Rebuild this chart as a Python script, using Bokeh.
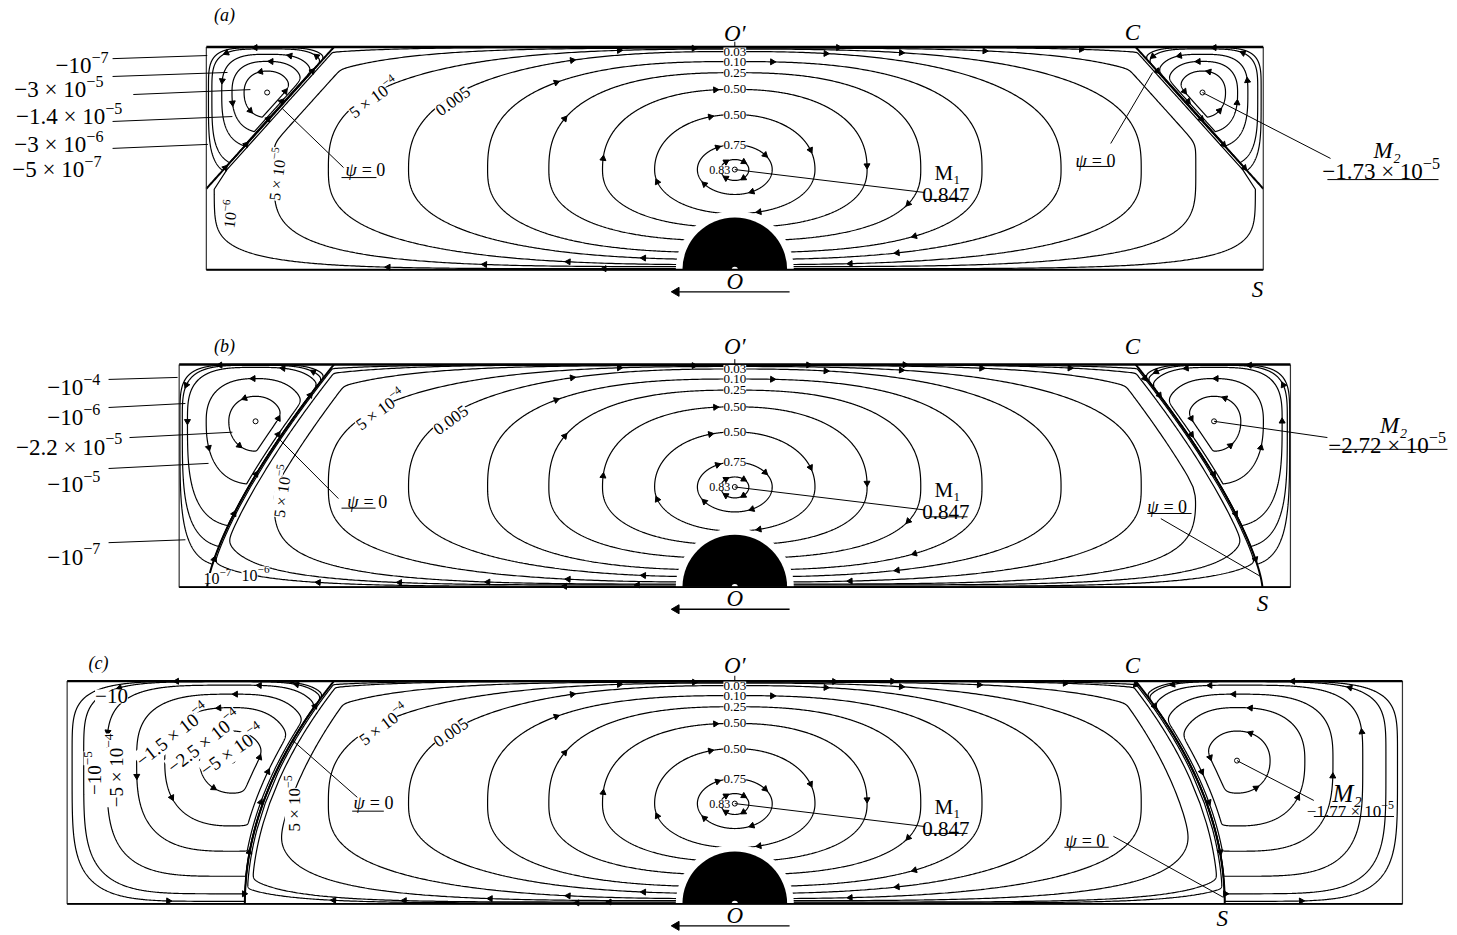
import numpy as np
from bokeh.plotting import figure
from bokeh.models import Range1d
from bokeh.embed import file_html
from bokeh.resources import INLINE
from bokeh.core.properties import value

# ---------------------------------------------------------------- data
# "^" separates a power of ten's exponent (drawn as a superscript)
PANEL_TAGS = ["(a)", "(b)", "(c)"]
HALF_LENGTH = [2.373, 2.495, 2.998]           # half cavity length, in units of depth
M1_VALUE = "0.847"
M1_X, M1_Y = 0.0, 0.45
M2_VALUES = ["−1.73 × 10^−5", "−2.72 × 10^−5", "−1.77 × 10^−5"]
M2_X = [2.10, 2.152, 2.255]
M2_Y = [0.796, 0.745, 0.643]
# psi = 0 separatrix from C (on the lid) down to its foot S
SEP_TOP_X = [1.80, 1.80, 1.80]
SEP_FOOT_X = [2.373, 2.369, 2.20]
SEP_FOOT_Y = [0.364, 0.0, 0.0]
SEP_BEND = [1.0, 1.4, 2.0]

# primary eddy: closed streamlines around M1 (same in the three cases)
MAIN_CENTRE_LABEL = "0.83"
MAIN_TOP_LABELS = ["0.75", "0.50", "0.50", "0.25", "0.10", "0.03"]
MAIN_HALF_WIDTH = [0.063, 0.168, 0.36, 0.594, 0.835, 1.11, 1.465, 1.825]
MAIN_RISE = [0.045, 0.112, 0.247, 0.36, 0.435, 0.485, 0.53, 0.541]
MAIN_DROP = [0.049, 0.112, 0.198, 0.26, 0.32, 0.373, 0.404, 0.427]
MAIN_SHAPE = [2.0, 2.0, 2.1, 2.3, 2.5, 2.6, 2.5, 2.8]
# outer primary streamlines that follow the separatrix
OUTER_HALF_WIDTH = [[2.07, 2.34], [2.07, 2.30, 2.42], [2.05, 2.25, 2.32]]
OUTER_RISE = [[0.545, 0.548], [0.545, 0.548, 0.549], [0.545, 0.548, 0.549]]
OUTER_DROP = [[0.436, 0.445], [0.436, 0.44, 0.446], [0.436, 0.442, 0.446]]
OUTER_SHAPE = [[4.0, 6.0], [4.0, 5.0, 6.0], [4.0, 6.0, 7.0]]
OUTER_GAP = [[0.12, 0.015], [0.12, 0.03, 0.008], [0.12, 0.03, 0.01]]
# corner eddies: relative size of each closed streamline (0 = centre, 1 = separatrix)
EDDY_SIZE = [[0.26, 0.42, 0.58, 0.78, 0.88],
             [0.18, 0.38, 0.64, 0.77, 0.88],
             [0.20, 0.41, 0.58, 0.76, 0.90, 0.97]]
EDDY_LABELS_A = ["−10^−7", "−3 × 10^−5", "−1.4 × 10^−5", "−3 × 10^−6", "−5 × 10^−7"]
EDDY_LABELS_B = ["−10^−4", "−10^−6", "−2.2 × 10^−5", "−10^−5", "−10^−7"]
EDDY_LABELS_C = ["−10", "−10^−5", "−5 × 10^−4", "−1.5 × 10^−4", "−2.5 × 10^−4", "−5 × 10^−4"]
SIDE_LABELS = ["5 × 10^−4", "0.005", "5 × 10^−5", "10^−6", "10^−7"]
OBSTACLE_R = 0.235

# ---------------------------------------------------------------- layout
S_PX = 222.7
W, H = 1457, 935
X0 = (0 - 734.3) / S_PX
YT = 903.3 / S_PX
PANEL_Y0 = [2.847, 1.4216, 0.0]
FONT = "Liberation Serif"
LW = 1.2

p = figure(width=W, height=H, x_range=Range1d(X0, X0 + W / S_PX),
           y_range=Range1d(YT - H / S_PX, YT), output_backend="svg",
           toolbar_location=None, x_axis_type=None, y_axis_type=None,
           min_border=0, outline_line_color=None)


def sep_x(y, pi, side):
    xt, xf, yf, pw = SEP_TOP_X[pi], SEP_FOOT_X[pi], SEP_FOOT_Y[pi], SEP_BEND[pi]
    t = np.clip((np.asarray(y, dtype=float) - yf) / (1.0 - yf), 0.0, 1.0)
    return side * (xf - (xf - xt) * t ** pw)


def smax(a, b, w=0.012):
    return w * np.logaddexp(a / w, b / w)


def smin(a, b, w=0.012):
    return -w * np.logaddexp(-a / w, -b / w)


PHI = np.linspace(-np.pi / 2, np.pi / 2, 401)


def ring(cx, cy, l, r, u, d, m, lim_l=None, lim_r=None):
    s, c = np.sin(PHI), np.cos(PHI)
    ex = 2.0 / m
    y = cy + np.where(s >= 0, u, d) * np.sign(s) * np.abs(s) ** ex
    f = np.abs(c) ** ex
    xl = cx - l * f
    xr = cx + r * f
    if lim_l is not None:
        xl = smax(xl, lim_l(y))
    if lim_r is not None:
        xr = smin(xr, lim_r(y))
    ok = xr > xl
    xs = np.concatenate([xl[ok], xr[ok][::-1]])
    ys = np.concatenate([y[ok], y[ok][::-1]])
    return np.append(xs, xs[0]), np.append(ys, ys[0])


def eddy_ring(pi, k):
    Lh = HALF_LENGTH[pi]
    mx, my = -M2_X[pi], M2_Y[pi]
    d_wall = mx + Lh
    d_up = 1.0 - my
    d_down = my - SEP_FOOT_Y[pi]
    d_c = -SEP_TOP_X[pi] - mx
    d_sep = float(sep_x(my, pi, -1)) - mx
    dmax = max(d_wall, d_up, d_down, d_c)

    def reach(D):
        return D * (1 - (1 - k) ** (dmax / D))
    gap = d_sep * (1 - k) ** (dmax / d_sep)
    m = 2 + 3 * k * k
    return ring(mx, my, reach(d_wall), reach(d_c), reach(d_up), reach(d_down), m,
                None, lambda y: sep_x(y, pi, -1) - gap)


def arrow_marks(xs, ys, fracs, want_ccw):
    seg = np.hypot(np.diff(xs), np.diff(ys))
    cum = np.concatenate([[0.0], np.cumsum(seg)])
    area = 0.5 * np.sum(xs[:-1] * ys[1:] - xs[1:] * ys[:-1])
    sgn = 1.0 if (area > 0) == want_ccw else -1.0
    out = []
    for f in fracs:
        t = (f % 1.0) * cum[-1]
        i = int(np.clip(np.searchsorted(cum, t), 2, len(xs) - 3))
        dx, dy = xs[i + 2] - xs[i - 2], ys[i + 2] - ys[i - 2]
        out.append((xs[i], ys[i], np.arctan2(sgn * dy, sgn * dx) - np.pi / 2))
    return out


def _text(x, y, s, size, style, align, base, ang, bg):
    kw = dict(text_font=value(FONT), text_font_size=f"{size:.1f}px", text_font_style=style,
              text_align=align, text_baseline=base, angle=ang, text_color="black")
    if bg:
        kw["background_fill_color"] = "white"
    p.text(x=[x], y=[y], text=[s], **kw)


def T(pi, x, y, s, size, style="normal", align="center", base="middle", ang=0.0, bg=False):
    _text(x, y + PANEL_Y0[pi], s, size, style, align, base, np.deg2rad(ang), bg)


# advance widths (em) of the serif face (Times metrics)
ADV = {" ": 0.25, ".": 0.25, "−": 0.564, "×": 0.564}


def tw(s):
    return sum(ADV.get(ch, 0.5) for ch in s)


def RT(pi, x, y, label, size, align="center", base="alphabetic", ang=0.0, bg=False):
    """label with an optional superscript exponent after '^'"""
    b, sp = (label.split("^") + [""])[:2]
    ss = 0.7 * size
    wb, ws = tw(b) * size, tw(sp) * ss
    wt = wb + ws
    a = np.deg2rad(ang)
    ux, uy, nx, ny = np.cos(a), np.sin(a), -np.sin(a), np.cos(a)
    shift = {"left": 0.0, "center": -wt / 2, "right": -wt}[align]
    dn = 0.0 if base == "alphabetic" else -0.33 * size
    X = x + (ux * shift + nx * dn) / S_PX
    Y = y + PANEL_Y0[pi] + (uy * shift + ny * dn) / S_PX
    _text(X, Y, b, size, "normal", "left", "alphabetic", a, bg)
    if sp:
        rs = 0.36 * size
        _text(X + (ux * wb + nx * rs) / S_PX, Y + (uy * wb + ny * rs) / S_PX, sp, ss,
              "normal", "left", "alphabetic", a, bg)


def PSI(pi, x, y, size=18):
    T(pi, x, y, "ψ", size, "italic", align="left", base="alphabetic")
    T(pi, x + 0.9 * size / S_PX, y, "= 0", size, align="left", base="alphabetic")


def SEG(pi, pts, w=1.0, color="black"):
    x0 = [q[0] for q in pts]
    y0 = [q[1] + PANEL_Y0[pi] for q in pts]
    x1 = [q[2] for q in pts]
    y1 = [q[3] + PANEL_Y0[pi] for q in pts]
    p.segment(x0=x0, y0=y0, x1=x1, y1=y1, line_color=color, line_width=w)


for pi in range(3):
    y0 = PANEL_Y0[pi]
    Lh = HALF_LENGTH[pi]
    cx_list, cy_list, ax, ay, aa = [], [], [], [], []

    # primary eddy
    rings = [(hw, up, dn, m, None) for hw, up, dn, m in
             zip(MAIN_HALF_WIDTH, MAIN_RISE, MAIN_DROP, MAIN_SHAPE)]
    rings += list(zip(OUTER_HALF_WIDTH[pi], OUTER_RISE[pi], OUTER_DROP[pi],
                      OUTER_SHAPE[pi], OUTER_GAP[pi]))
    for j, (hw, up, dn, m, gap) in enumerate(rings):
        if gap is None:
            ll = lr = None
        else:
            ll = (lambda y, g=gap, q=pi: sep_x(y, q, -1) + g)
            lr = (lambda y, g=gap, q=pi: sep_x(y, q, 1) - g)
        xs, ys = ring(M1_X, M1_Y, hw, hw, up, dn, m, ll, lr)
        cx_list.append(xs)
        cy_list.append(ys + y0)
        fr = [0.12 + 0.045 * j, 0.38 + 0.03 * j, 0.62 + 0.045 * j, 0.88 + 0.03 * j]
        for (a, b, c) in arrow_marks(xs, ys, fr, want_ccw=False):
            ax.append(a); ay.append(b + y0); aa.append(c)

    # corner eddies (left computed, right mirrored)
    for j, k in enumerate(EDDY_SIZE[pi]):
        xs, ys = eddy_ring(pi, k)
        for side in (1, -1):
            xx = xs * side
            cx_list.append(xx)
            cy_list.append(ys + y0)
            fr = [0.1 + 0.08 * j, 0.45 + 0.05 * j, 0.75 + 0.06 * j]
            for (a, b, c) in arrow_marks(xx, ys, fr, want_ccw=True):
                ax.append(a); ay.append(b + y0); aa.append(c)

    p.multi_line(xs=cx_list, ys=cy_list, line_color="black", line_width=LW)
    p.scatter(x=ax, y=ay, angle=aa, marker="triangle", size=6, color="black")

    # separatrices psi = 0
    yy = np.linspace(SEP_FOOT_Y[pi], 1.0, 200)
    for side in (-1, 1):
        p.line(x=sep_x(yy, pi, side), y=yy + y0, line_color="black", line_width=2.0)

    # obstacle at O
    p.wedge(x=[0], y=[y0], radius=OBSTACLE_R + 0.03, start_angle=0, end_angle=np.pi,
            fill_color="white", line_color=None)
    p.wedge(x=[0], y=[y0], radius=OBSTACLE_R, start_angle=0, end_angle=np.pi,
            fill_color="black", line_color=None)
    p.wedge(x=[0], y=[y0], radius=0.014, start_angle=0, end_angle=np.pi,
            fill_color="white", line_color=None)

    # cavity walls
    p.line(x=[-Lh, -Lh, Lh, Lh], y=[y0 + 1, y0, y0, y0 + 1], line_color="#333333", line_width=1.2)
    p.line(x=[-Lh, Lh], y=[y0 + 1, y0 + 1], line_color="black", line_width=2.4)
    p.line(x=[-Lh, Lh], y=[y0, y0], line_color="black", line_width=1.8)

    # vortex centres
    p.scatter(x=[M1_X, -M2_X[pi], M2_X[pi]], y=[M1_Y + y0, M2_Y[pi] + y0, M2_Y[pi] + y0],
              marker="circle", size=5, fill_color="white", line_color="black", line_width=1)

    # centre labels of the primary eddy
    for lab, up in zip(MAIN_TOP_LABELS, MAIN_RISE[1:7]):
        T(pi, 0.0, M1_Y + up, lab, 13, bg=True)
    T(pi, -0.02, M1_Y, MAIN_CENTRE_LABEL, 12, align="right", bg=True)

    # O', O and moving wall arrow
    SEG(pi, [(0, 1.0, 0, 1.024)])
    T(pi, 0.0, 1.061 if pi == 0 else (1.079 if pi == 1 else 1.071), "O′", 23, "italic")
    T(pi, 0.0, -0.052, "O", 23, "italic")
    SEG(pi, [(-0.25, -0.099, 0.246, -0.099)], w=1.3)
    p.scatter(x=[-0.262], y=[-0.099 + y0], marker="triangle", angle=np.pi / 2, size=9, color="black")

    # M1 annotation
    T(pi, 0.955, 0.436, "M₁", 21, base="alphabetic")
    T(pi, 0.948, 0.336, M1_VALUE, 21, base="alphabetic")
    SEG(pi, [(0.852, 0.316, 1.045, 0.316), (M1_X, M1_Y, 0.852, 0.347)])

# ---------------------------------------------------------------- panel (a)
T(0, -2.291, 1.142, PANEL_TAGS[0], 18, "italic")
T(0, 1.786, 1.066, "C", 23, "italic")
T(0, 2.347, -0.088, "S", 23, "italic")
for s, xr, yb in zip(EDDY_LABELS_A, [-2.812, -2.835, -2.75, -2.835, -2.844],
                     [0.917, 0.81, 0.688, 0.563, 0.45]):
    RT(0, xr, yb, s, 23, align="right")
SEG(0, [(-2.794, 0.948, -2.369, 0.962), (-2.794, 0.868, -2.278, 0.886),
        (-2.701, 0.787, -2.175, 0.809), (-2.794, 0.666, -2.256, 0.688),
        (-2.794, 0.545, -2.366, 0.563)])
PSI(0, -1.748, 0.446)
SEG(0, [(-1.766, 0.414, -1.609, 0.414), (-1.757, 0.459, -2.032, 0.724)])
RT(0, -1.635, 0.792, SIDE_LABELS[0], 17, base="middle", ang=36, bg=True)
RT(0, -1.28, 0.778, SIDE_LABELS[1], 17, base="middle", ang=36, bg=True)
RT(0, -2.075, 0.432, SIDE_LABELS[2], 16, base="middle", ang=82, bg=True)
RT(0, -2.287, 0.253, SIDE_LABELS[3], 16, base="middle", ang=82, bg=True)
PSI(0, 1.53, 0.49)
SEG(0, [(1.535, 0.464, 1.688, 0.464), (1.688, 0.567, 1.876, 0.886)])
T(0, 2.929, 0.535, "M₂", 23, "italic", base="alphabetic")
RT(0, 2.902, 0.44, M2_VALUES[0], 23)
SEG(0, [(2.661, 0.405, 3.16, 0.405), (M2_X[0], M2_Y[0], 2.675, 0.5)])

# ---------------------------------------------------------------- panel (b)
T(1, -2.291, 1.085, PANEL_TAGS[1], 18, "italic")
T(1, 1.786, 1.079, "C", 23, "italic")
T(1, 2.369, -0.073, "S", 23, "italic")
for s, xr, yb in zip(EDDY_LABELS_B, [-2.849, -2.849, -2.75, -2.849, -2.849],
                     [0.895, 0.762, 0.629, 0.461, 0.135]):
    RT(1, xr, yb, s, 23, align="right")
SEG(1, [(-2.812, 0.933, -2.502, 0.942), (-2.812, 0.807, -2.467, 0.825),
        (-2.718, 0.672, -2.256, 0.696), (-2.812, 0.533, -2.363, 0.556),
        (-2.812, 0.2, -2.467, 0.213)])
PSI(1, -1.74, 0.382)
SEG(1, [(-1.766, 0.355, -1.613, 0.355), (-1.78, 0.398, -2.049, 0.668)])
RT(1, -1.605, 0.816, SIDE_LABELS[0], 17, base="middle", ang=36, bg=True)
RT(1, -1.29, 0.771, SIDE_LABELS[1], 17, base="middle", ang=36, bg=True)
RT(1, -2.053, 0.434, SIDE_LABELS[2], 16, base="middle", ang=82, bg=True)
RT(1, -2.323, 0.039, SIDE_LABELS[4], 16, bg=True)
RT(1, -2.152, 0.052, SIDE_LABELS[3], 16, bg=True)
PSI(1, 1.852, 0.359)
SEG(1, [(1.852, 0.331, 2.051, 0.331), (1.913, 0.308, 2.358, 0.05)])
T(1, 2.958, 0.725, "M₂", 23, "italic", base="alphabetic")
RT(1, 2.929, 0.637, M2_VALUES[1], 23)
SEG(1, [(2.67, 0.619, 3.2, 0.619), (M2_X[1], M2_Y[1], 2.661, 0.672)])

# ---------------------------------------------------------------- panel (c)
T(2, -2.857, 1.08, PANEL_TAGS[2], 18, "italic")
T(2, 1.786, 1.071, "C", 23, "italic")
T(2, 2.189, -0.066, "S", 23, "italic")
RT(2, -2.799, 0.962, EDDY_LABELS_C[0], 21, base="middle", bg=True)
RT(2, -2.904, 0.587, EDDY_LABELS_C[1], 19, base="middle", ang=90, bg=True)
RT(2, -2.806, 0.599, EDDY_LABELS_C[2], 19, base="middle", ang=90, bg=True)
RT(2, -2.541, 0.778, EDDY_LABELS_C[3], 19, base="middle", ang=38, bg=True)
RT(2, -2.399, 0.748, EDDY_LABELS_C[4], 19, base="middle", ang=38, bg=True)
RT(2, -2.272, 0.711, EDDY_LABELS_C[5], 19, base="middle", ang=35, bg=True)
RT(2, -2.003, 0.451, SIDE_LABELS[2], 17, base="middle", ang=90, bg=True)
RT(2, -1.591, 0.823, SIDE_LABELS[0], 17, base="middle", ang=37, bg=True)
RT(2, -1.289, 0.79, SIDE_LABELS[1], 17, base="middle", ang=35, bg=True)
PSI(2, -1.712, 0.451)
SEG(2, [(-1.718, 0.416, -1.576, 0.416), (-1.695, 0.478, -1.986, 0.734)])
PSI(2, 1.485, 0.284)
SEG(2, [(1.48, 0.254, 1.679, 0.254), (1.70, 0.303, 2.194, 0.029)])
T(2, 2.75, 0.494, "M₂", 25, "italic", base="alphabetic")
RT(2, 2.764, 0.414, M2_VALUES[2], 17)
SEG(2, [(2.6, 0.392, 2.96, 0.392), (M2_X[2], M2_Y[2], 2.6, 0.464)])

open("out.html", "w").write(file_html(p, INLINE))
